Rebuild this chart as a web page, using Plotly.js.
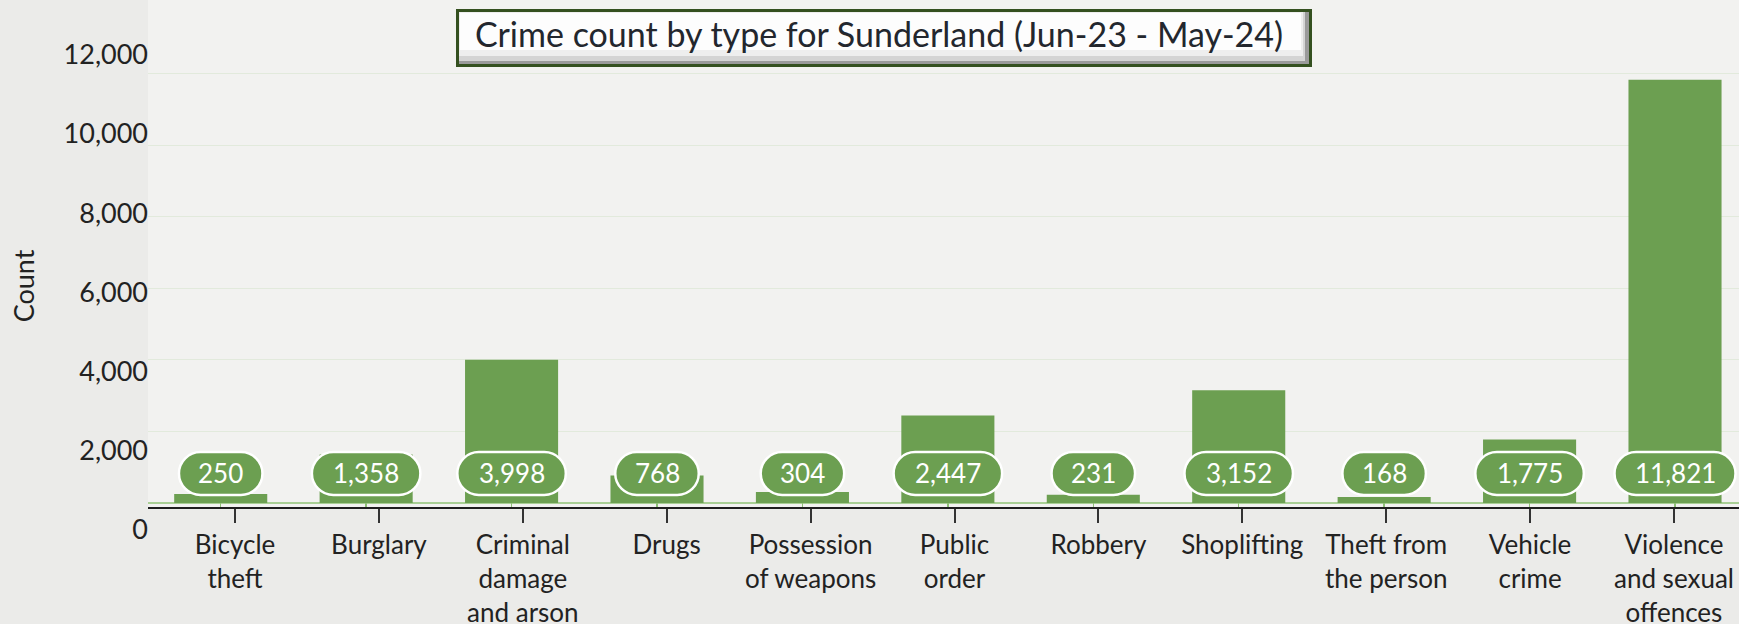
<!DOCTYPE html>
<html>
<head>
<meta charset="utf-8">
<script src="https://cdn.plot.ly/plotly-3.0.1.min.js"></script>
<style>
  html, body { margin: 0; padding: 0; background: #eeeeec; }
  #chart { width: 1739px; height: 624px; }
</style>
</head>
<body>
<div id="chart"></div>
<script>
// ---- data ----
const categories = ['Bicycle theft', 'Burglary', 'Criminal damage and arson', 'Drugs',
  'Possession of weapons', 'Public order', 'Robbery', 'Shoplifting',
  'Theft from the person', 'Vehicle crime', 'Violence and sexual offences'];
const counts = [250, 1358, 3998, 768, 304, 2447, 231, 3152, 168, 1775, 11821];
const tickLabels = ['Bicycle<br>theft', 'Burglary', 'Criminal<br>damage<br>and arson', 'Drugs',
  'Possession<br>of weapons', 'Public<br>order', 'Robbery', 'Shoplifting',
  'Theft from<br>the person', 'Vehicle<br>crime', 'Violence<br>and sexual<br>offences'];
const yTickVals = [0, 2000, 4000, 6000, 8000, 10000, 12000];
const chartTitle = 'Crime count by type for Sunderland (Jun-23 - May-24)';
const yTitle = 'Count';

// ---- layout geometry (pixels) ----
const W = 1739, H = 624, L = 148;
const FONT = 'Lato, "Open Sans", sans-serif';
const GREEN = '#6c9f51';
const plotBottomPx = 507, plotTopPx = 0;
const zeroPx = 503, pxPerUnit = 0.0358;
const lblZeroPx = 530, lblPxPerUnit = 79.2 / 2000, lblBottomPx = 542, lblTopPx = 30;
const pillCenterPx = 473.5, pillH = 43;

const fy = py => (H - py) / H;
const fx = px => (px - L) / (W - L);

const yRange = [-(plotBottomPx - zeroPx) / pxPerUnit, (zeroPx - plotTopPx) / pxPerUnit];
const y2Range = [(lblZeroPx - lblBottomPx) / lblPxPerUnit, (lblZeroPx - lblTopPx) / lblPxPerUnit];
const pillY = (zeroPx - pillCenterPx) / pxPerUnit;

const fmt = v => v.toLocaleString('en-US');

// ---- traces ----
const bars = {
  type: 'bar', x: categories, y: counts, width: 0.64,
  marker: { color: GREEN, line: { width: 0 } },
  hoverinfo: 'skip', showlegend: false
};
const xLabelCarrier = { type: 'scatter', x: [], y: [], xaxis: 'x2', yaxis: 'y', showlegend: false, hoverinfo: 'skip' };
const yLabelCarrier = { type: 'scatter', x: [], y: [], xaxis: 'x', yaxis: 'y2', showlegend: false, hoverinfo: 'skip' };

// ---- pill labels ----
function pillPath(hw, r) {
  const k = 0.5523 * r;
  const a = hw - r;
  return `M ${-a} ${-r} L ${a} ${-r} C ${a + k} ${-r} ${hw} ${-k} ${hw} 0 ` +
         `C ${hw} ${k} ${a + k} ${r} ${a} ${r} L ${-a} ${r} ` +
         `C ${-a - k} ${r} ${-hw} ${k} ${-hw} 0 C ${-hw} ${-k} ${-a - k} ${-r} ${-a} ${-r} Z`;
}
const shapes = [];
// plot background
shapes.push({ type: 'rect', xref: 'paper', yref: 'paper', x0: 0, x1: 1, y0: fy(plotBottomPx), y1: 1,
  fillcolor: '#f2f2f0', line: { width: 0 }, layer: 'below' });
counts.forEach((v, i) => {
  const txt = fmt(v);
  const w = 46 + 12.5 * txt.length;
  shapes.push({
    type: 'path', xref: 'x', yref: 'y',
    xsizemode: 'pixel', ysizemode: 'pixel', xanchor: i, yanchor: pillY,
    path: pillPath(w / 2, pillH / 2),
    fillcolor: GREEN, line: { color: '#ffffff', width: 2.5 }, layer: 'above'
  });
});
// title box
const tb = { x0: 456, x1: 1312, y0: 9, y1: 67 };
shapes.push({ type: 'rect', xref: 'paper', yref: 'paper', x0: fx(tb.x0), x1: fx(tb.x1), y0: fy(tb.y1), y1: fy(tb.y0),
  fillcolor: '#34501f', line: { width: 0 }, layer: 'above' });
shapes.push({ type: 'rect', xref: 'paper', yref: 'paper', x0: fx(tb.x0 + 3), x1: fx(tb.x1 - 3), y0: fy(tb.y1 - 3), y1: fy(tb.y0 + 3),
  fillcolor: '#9a9a9a', line: { width: 0 }, layer: 'above' });
shapes.push({ type: 'rect', xref: 'paper', yref: 'paper', x0: fx(tb.x0 + 3), x1: fx(tb.x1 - 7), y0: fy(tb.y1 - 6), y1: fy(tb.y0 + 3),
  fillcolor: '#d4d4d4', line: { width: 0 }, layer: 'above' });
shapes.push({ type: 'rect', xref: 'paper', yref: 'paper', x0: fx(tb.x0 + 3), x1: fx(tb.x1 - 9), y0: fy(tb.y1 - 11), y1: fy(tb.y0 + 3),
  fillcolor: '#eeeeee', line: { width: 0 }, layer: 'above' });
shapes.push({ type: 'rect', xref: 'paper', yref: 'paper', x0: fx(tb.x0 + 4), x1: fx(tb.x1 - 11), y0: fy(tb.y1 - 17), y1: fy(tb.y0 + 4),
  fillcolor: '#fdfdfd', line: { width: 0 }, layer: 'above' });

const annotations = counts.map((v, i) => ({
  x: i, y: pillY, xref: 'x', yref: 'y', text: fmt(v), showarrow: false,
  font: { family: FONT, size: 26, color: '#ffffff' }, yshift: 1
}));

const layout = {
  width: W, height: H,
  margin: { l: L, r: 0, t: 0, b: 0, pad: 0 },
  paper_bgcolor: '#ebebe9',
  plot_bgcolor: 'rgba(0,0,0,0)',
  showlegend: false,
  title: {
    text: chartTitle, xref: 'container', yref: 'container',
    x: 879 / W, y: fy(35), xanchor: 'center', yanchor: 'middle',
    font: { family: FONT, size: 34, color: '#23272e' }
  },
  xaxis: {
    type: 'category', categoryorder: 'array', categoryarray: categories,
    range: [-0.5, 10.44], domain: [0, 1], anchor: 'y',
    showticklabels: false, showgrid: false, zeroline: false, showline: false,
    ticks: 'inside', ticklen: 4, tickwidth: 1.5, tickcolor: '#8fbf78', fixedrange: true
  },
  xaxis2: {
    type: 'linear', overlaying: 'x', anchor: 'y', side: 'bottom',
    range: [-0.605, 10.452],
    tickmode: 'array', tickvals: categories.map((c, i) => i), ticktext: tickLabels,
    showline: true, linecolor: '#1e1e1e', linewidth: 2,
    ticks: 'outside', ticklen: 14, tickwidth: 2, tickcolor: '#333333',
    showgrid: false, zeroline: false,
    tickfont: { family: FONT, size: 26, color: '#222222' }, fixedrange: true
  },
  yaxis: {
    domain: [fy(plotBottomPx), fy(plotTopPx)], range: yRange, anchor: 'x',
    tickmode: 'array', tickvals: yTickVals, showticklabels: false,
    showgrid: true, gridcolor: 'rgba(170,205,150,0.22)', gridwidth: 1,
    zeroline: true, zerolinecolor: '#a9cf95', zerolinewidth: 2,
    showline: false, ticks: '', fixedrange: true
  },
  yaxis2: {
    domain: [fy(lblBottomPx), fy(lblTopPx)], range: y2Range,
    anchor: 'free', position: 0, side: 'left',
    tickmode: 'array', tickvals: yTickVals, tickformat: ',d',
    showgrid: false, zeroline: false, showline: false, ticks: '',
    tickfont: { family: FONT, size: 27, color: '#222222' },
    title: { text: yTitle, font: { family: FONT, size: 27, color: '#222222' }, standoff: 20 },
    fixedrange: true
  },
  shapes: shapes,
  annotations: annotations
};

Plotly.newPlot('chart', [bars, xLabelCarrier, yLabelCarrier], layout, { staticPlot: true, displayModeBar: false });
</script>
</body>
</html>
